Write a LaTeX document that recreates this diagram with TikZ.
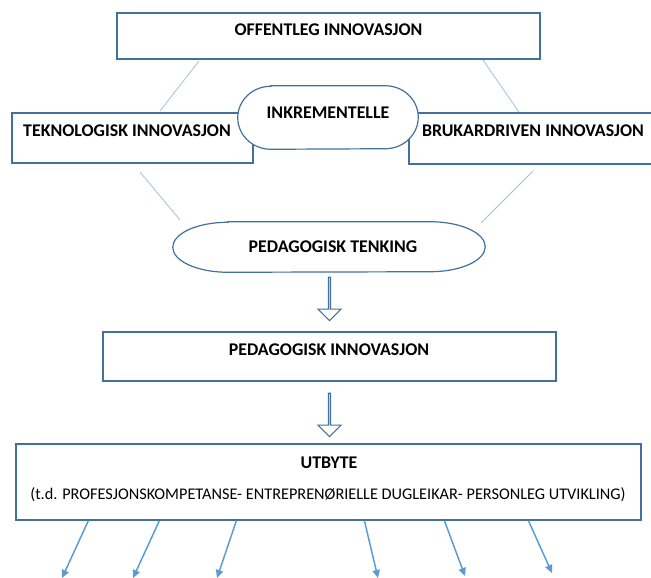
\documentclass[tikz,border=0pt]{standalone}
\usepackage{fontspec}
\setmainfont{Carlito}
\usepackage{tikz}
\usetikzlibrary{arrows.meta,shapes.arrows,calc}

\definecolor{boxblue}{HTML}{41719C}
\definecolor{lineblue}{HTML}{9DC3E6}
\definecolor{arrowblue}{HTML}{5B9BD5}

\tikzset{
  box/.style={draw=boxblue,line width=0.9pt,fill=white,inner sep=0pt},
  lbl/.style={font=\bfseries\fontsize{13.4}{15}\selectfont,inner sep=0pt},
  link/.style={draw=lineblue,line width=0.6pt},
  hollow/.style={single arrow,draw=boxblue,line width=0.9pt,fill=white,
    rotate=-90,inner sep=0pt,minimum width=17.25pt,minimum height=32.5pt,
    single arrow head extend=5.25pt,single arrow head indent=0pt},
  outarrow/.style={draw=arrowblue,line width=1.1pt,-{Triangle[length=6pt,width=5.5pt]}}
}

\begin{document}
\begin{tikzpicture}[x=0.75pt,y=-0.75pt]
\clip (0,0) rectangle (651,578);
\fill[white] (0,0) rectangle (651,578);
% thin connectors
\coordinate (a1) at (199,61);  \coordinate (a2) at (160,111);
\coordinate (b1) at (483,60);  \coordinate (b2) at (519,112);
\coordinate (c1) at (140,172); \coordinate (c2) at (180,220);
\coordinate (d1) at (533,171); \coordinate (d2) at (481,223);
\draw[link] (a1) -- (a2);
\draw[link] (b1) -- (b2);
\draw[link] (c1) -- (c2);
\draw[link] (d1) -- (d2);
% boxes
\node[box,minimum width=317.25pt,minimum height=34.5pt] (top) at (328.5,36) {};
\node[lbl] (toptxt) at (328.5,30) {OFFENTLEG INNOVASJON};
\node[box,minimum width=180.75pt,minimum height=37.5pt] (tek) at (132.5,138) {};
\node[lbl] (tektxt) at (127,131) {TEKNOLOGISK INNOVASJON};
\node[box,minimum width=218.25pt,minimum height=38.25pt] (bruk) at (554.5,138.5) {};
\node[lbl] (bruktxt) at (533,131) {BRUKARDRIVEN INNOVASJON};
% rounded ones
\node[minimum width=135pt,minimum height=47.25pt] (inkr) at (328,117.5) {};
\draw[box] ($(inkr.north west)+(33,0)$) -- ($(inkr.north east)+(-33,0)$)
  arc[start angle=-90,end angle=90,x radius=33,y radius=31.5]
  -- ($(inkr.south west)+(33,0)$)
  arc[start angle=90,end angle=270,x radius=33,y radius=31.5] -- cycle;
\node[lbl] (inkrtxt) at (328,113) {INKREMENTELLE};
\node[minimum width=234pt,minimum height=37.5pt] (tenk) at (329,247) {};
\draw[box] ($(tenk.north west)+(55,0)$) -- ($(tenk.north east)+(-55,0)$)
  arc[start angle=-90,end angle=90,x radius=55,y radius=25]
  -- ($(tenk.south west)+(55,0)$)
  arc[start angle=90,end angle=270,x radius=55,y radius=25] -- cycle;
\node[lbl] (tenktxt) at (333,247) {PEDAGOGISK TENKING};
\node[hollow] (h1) at (329.5,298.5) {};
\node[box,minimum width=339.75pt,minimum height=36.75pt] (innov) at (329.5,356.5) {};
\node[lbl] (innovtxt) at (329,350) {PEDAGOGISK INNOVASJON};
\node[hollow] (h2) at (329.5,414.5) {};
\node[box,minimum width=468.75pt,minimum height=57pt] (utbyte) at (328.5,482) {};
\node[lbl] (utbytetxt) at (329,463) {UTBYTE};
\node[font=\fontsize{12.2}{14}\selectfont,inner sep=0pt] (eks) at (328,495)
  {(t.d. PROFESJONSKOMPETANSE- ENTREPRENØRIELLE DUGLEIKAR- PERSONLEG UTVIKLING)};
% outcome arrows
\coordinate (e1) at (62,578);  \coordinate (e2) at (133,578);
\coordinate (e3) at (217,578); \coordinate (e4) at (378,578);
\coordinate (e5) at (465,576); \coordinate (e6) at (552,573);
\draw[outarrow] (utbyte.south west) ++(73,0) -- (e1);
\draw[outarrow] (utbyte.south west) ++(144,0) -- (e2);
\draw[outarrow] (utbyte.south west) ++(221,0) -- (e3);
\draw[outarrow] (utbyte.south west) ++(349,0) -- (e4);
\draw[outarrow] (utbyte.south west) ++(429,0) -- (e5);
\draw[outarrow] (utbyte.south west) ++(513,0) -- (e6);
\end{tikzpicture}
\end{document}
